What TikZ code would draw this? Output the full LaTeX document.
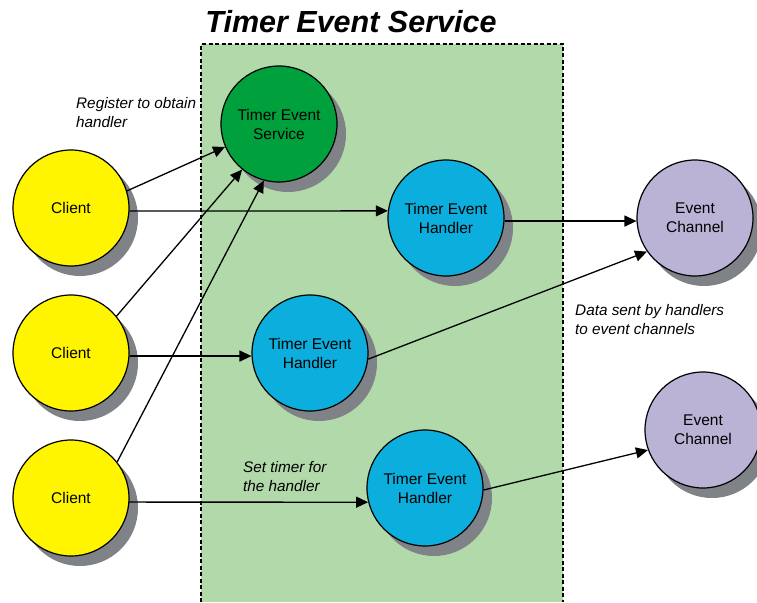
\documentclass[tikz,border=0pt]{standalone}
\usepackage{fontspec}
\setmainfont{Liberation Sans}
\usetikzlibrary{shadows,arrows.meta}
\definecolor{cyellow}{HTML}{FFF500}
\definecolor{cgreen}{HTML}{00A03C}
\definecolor{cblue}{HTML}{0BAEDC}
\definecolor{cpurple}{HTML}{BAB3D6}
\definecolor{cbox}{HTML}{B2D9AA}
\definecolor{cshadow}{HTML}{7F8387}
\begin{document}
\begin{tikzpicture}[x=1pt,y=-1pt,
  bubble/.style={circle, draw=black, line width=1.2pt, minimum size=116pt, inner sep=0pt,
    align=center, font=\fontsize{15.5}{19}\selectfont,
    drop shadow={shadow xshift=9pt, shadow yshift=-10pt, fill=cshadow, opacity=1}},
  conn/.style={-{Triangle[length=12pt,width=11pt]}, line width=1.3pt},
  lbl/.style={align=left, anchor=west, inner sep=0pt, font=\fontsize{15.3}{19}\selectfont\itshape}]
\useasboundingbox (0,0) rectangle (757,602);
% service box
\fill[cbox] (201,44) rectangle (563,602);
\draw[line width=1.2pt, dash pattern=on 4pt off 2.5pt] (201,602) -- (201,44) -- (563,44) -- (563,602);
\node[font=\fontsize{30.5}{32}\selectfont\bfseries\itshape] (title) at (351,22) {Timer Event Service};
% nodes
\node[bubble, fill=cyellow] (c1) at (71,208) {Client};
\node[bubble, fill=cyellow] (c2) at (71,353) {Client};
\node[bubble, fill=cyellow] (c3) at (71,498) {Client};
\node[bubble, fill=cgreen] (tes) at (279,124) {Timer Event\\Service};
\node[bubble, fill=cblue] (h1) at (446,218) {Timer Event\\Handler};
\node[bubble, fill=cblue] (h2) at (310,353) {Timer Event\\Handler};
\node[bubble, fill=cblue] (h3) at (425,488) {Timer Event\\Handler};
\node[bubble, fill=cpurple] (ec1) at (695,218) {Event\\Channel};
\node[bubble, fill=cpurple] (ec2) at (703,430) {Event\\Channel};
% labels
\node[lbl] (l1) at (76,112.5) {Register to obtain\\handler};
\node[lbl] (l2) at (243,476.5) {Set timer for\\the handler};
\node[lbl] (l3) at (575,320) {Data sent by handlers\\to event channels};
% connectors
\draw[conn] (c1.17) -- (tes.203);
\draw[conn] (c2.39) -- (tes.231);
\draw[conn] (c3.38) -- (tes.255);
\draw[conn] (c1.-3) -- (h1.173);
\draw[conn] (c2.-3) -- (h2.183);
\draw[conn] (c3.-4) -- (h3.194);
\draw[conn] (h1.-3) -- (ec1.183);
\draw[conn] (h2.-6) -- (ec1.215);
\draw[conn] (h3.-2) -- (ec2.200);
\end{tikzpicture}
\end{document}
